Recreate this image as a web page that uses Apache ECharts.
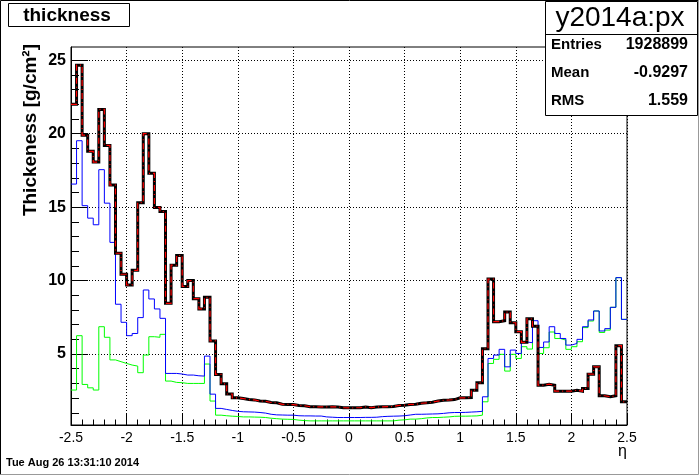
<!DOCTYPE html>
<html>
<head>
<meta charset="utf-8">
<script src="https://cdn.jsdelivr.net/npm/echarts@6/dist/echarts.min.js"></script>
<style>
html,body{margin:0;padding:0;background:#fff;}
#c{width:699px;height:475px;}
</style>
</head>
<body>
<div id="c"></div>
<script>
// Histogram binning (eta)
var nBins = 100, etaMin = -2.5, etaMax = 2.5;
var xTicks = [-2.5, -2, -1.5, -1, -0.5, 0, 0.5, 1, 1.5, 2, 2.5];
var yTicks = [5, 10, 15, 20, 25];
var yMinorTicks = [1,2,3,4,5,6,7,8,9,10,11,12,13,14,15,16,17,18,19,20,21,22,23,24,25];

// total thickness (black thick / red dashed)
var totalThick = [
 22.0, 24.66, 19.9, 18.8, 18.07, 21.65, 19.2, 16.5, 11.86, 10.43,
 9.7, 10.7, 15.3, 20.0, 17.3, 14.98, 14.7, 8.45, 11.05, 11.7,
 9.6, 10.0, 8.77, 8.07, 8.86, 5.89, 3.61, 2.97, 2.28, 2.02,
 1.97, 1.9, 1.88, 1.8, 1.78, 1.7, 1.68, 1.58, 1.57, 1.56,
 1.5, 1.48, 1.42, 1.41, 1.4, 1.4, 1.41, 1.4, 1.35, 1.34,
 1.34, 1.35, 1.4, 1.35, 1.4, 1.41, 1.42, 1.43, 1.5, 1.52,
 1.57, 1.58, 1.65, 1.68, 1.72, 1.8, 1.85, 1.87, 1.9, 2.02,
 2.02, 2.04, 2.54, 3.04, 5.36, 10.1, 7.2, 7.27, 7.86, 7.13,
 6.52, 5.8, 7.4, 6.9, 2.88, 2.95, 2.88, 2.47, 2.47, 2.47,
 2.54, 2.47, 2.66, 3.63, 4.13, 2.16, 2.09, 2.16, 5.57, 1.75
];
// blue component
var blueThick = [
 16.57, 19.52, 15.1, 14.25, 13.8, 17.55, 15.27, 12.6, 8.39, 7.16,
 6.25, 6.4, 7.48, 9.36, 8.75, 8.07, 7.43, 3.68, 3.68, 3.64,
 3.57, 3.57, 3.52, 3.5, 4.86, 2.27, 1.3, 1.23, 1.16, 1.1,
 1.07, 1.06, 1.05, 1.02, 0.98, 0.9, 0.86, 0.85, 0.84, 0.84,
 0.8, 0.79, 0.79, 0.78, 0.78, 0.72, 0.7, 0.68, 0.68, 0.68,
 0.68, 0.68, 0.69, 0.69, 0.7, 0.74, 0.76, 0.77, 0.78, 0.8,
 0.85, 0.9, 0.9, 0.91, 0.92, 0.93, 0.96, 1.0, 1.02, 1.02,
 1.03, 1.05, 1.07, 1.1, 2.09, 4.7, 4.93, 5.32, 4.13, 5.27,
 5.04, 5.82, 5.77, 7.27, 5.45, 5.82, 6.86, 6.4, 6.06, 5.61,
 5.72, 6.0, 6.86, 7.32, 7.93, 6.57, 6.73, 8.18, 10.2, 7.36
];
// green component
var greenThick = [
 2.55, 6.25, 2.93, 2.7, 2.55, 6.86, 6.14, 4.6, 4.48, 4.36,
 4.25, 4.18, 3.73, 4.93, 6.18, 6.14, 6.34, 3.16, 3.07, 3.05,
 3.0, 3.0, 3.0, 3.0, 4.32, 1.8, 0.84, 0.8, 0.77, 0.75,
 0.72, 0.72, 0.71, 0.7, 0.68, 0.63, 0.6, 0.57, 0.56, 0.55,
 0.5, 0.47, 0.45, 0.45, 0.45, 0.45, 0.45, 0.45, 0.45, 0.45,
 0.45, 0.45, 0.45, 0.45, 0.45, 0.45, 0.45, 0.45, 0.5, 0.52,
 0.57, 0.57, 0.6, 0.65, 0.68, 0.68, 0.7, 0.72, 0.76, 0.77,
 0.77, 0.78, 0.79, 0.84, 1.75, 4.36, 4.64, 4.98, 3.84, 4.98,
 4.7, 5.5, 5.34, 6.9, 5.04, 5.43, 6.5, 6.06, 5.95, 5.32,
 5.5, 5.84, 6.8, 7.25, 7.93, 6.47, 6.63, 8.18, 10.2, 7.36
];

var statsTitle = 'y2014a:px';
var statsRows = [['Entries', '1928899'], ['Mean', '-0.9297'], ['RMS', '1.559']];
var histTitle = 'thickness';
var yTitle = 'Thickeness [g/cm\u00B2]';
var xTitle = '\u03B7';
var dateText = 'Tue Aug 26 13:31:10 2014';

function histData(vals) {
  var w = (etaMax - etaMin) / nBins, out = [];
  for (var i = 0; i < vals.length; i++) out.push([etaMin + i * w, vals[i]]);
  out.push([etaMax, vals[vals.length - 1]]);
  return out;
}

var FONT = '"Liberation Sans", Arial, Helvetica, sans-serif';
var chart = echarts.init(document.getElementById('c'), null, {renderer: 'canvas'});

function lineSeries(vals, color, width, type, z) {
  return {
    type: 'line', step: 'end', data: histData(vals), symbol: 'none',
    showSymbol: false, animation: false, z: z, silent: true,
    lineStyle: {color: color, width: width, type: type, cap: 'butt', join: 'miter'}
  };
}

var graphics = [
  // canvas border
  {type: 'polyline', z: 100, shape: {points: [[0.5, 474.5], [0.5, 0.5], [698.5, 0.5]]}, style: {stroke: '#000', lineWidth: 1, fill: null}},
  {type: 'polyline', z: 100, shape: {points: [[0.5, 474.5], [698.5, 474.5], [698.5, 0.5]]}, style: {stroke: '#999', lineWidth: 1, fill: null}},
  // title box
  {type: 'rect', z: 100, shape: {x: 8.5, y: 3.5, width: 121, height: 23}, style: {fill: '#fff', stroke: '#000', lineWidth: 1}},
  {type: 'text', z: 101, x: 67, y: 15.5, style: {text: histTitle, font: 'bold 19px ' + FONT, fill: '#000', textAlign: 'center', textVerticalAlign: 'middle'}},
  // stats box
  {type: 'rect', z: 100, shape: {x: 545.5, y: 1.5, width: 152, height: 114}, style: {fill: '#fff', stroke: '#000', lineWidth: 1}},
  {type: 'line', z: 101, shape: {x1: 545.5, y1: 34.5, x2: 697.5, y2: 34.5}, style: {stroke: '#000', lineWidth: 1}},
  {type: 'text', z: 101, x: 620, y: 18, style: {text: statsTitle, font: '28px ' + FONT, fill: '#000', textAlign: 'center', textVerticalAlign: 'middle'}},
  // y title
  {type: 'text', z: 101, x: 31, y: 44, rotation: Math.PI / 2, style: {text: yTitle, font: 'bold 19px ' + FONT, fill: '#000', textAlign: 'right', textVerticalAlign: 'middle'}},
  // x title
  {type: 'text', z: 101, x: 627, y: 452, style: {text: xTitle, font: '16px ' + FONT, fill: '#000', textAlign: 'right', textVerticalAlign: 'middle'}},
  // date
  {type: 'text', z: 101, x: 6, y: 463, style: {text: dateText, font: 'bold 11px ' + FONT, fill: '#000', textAlign: 'left', textVerticalAlign: 'middle'}}
];
var rowY = [45, 73, 101];
statsRows.forEach(function (r, i) {
  graphics.push({type: 'text', z: 101, x: 551, y: rowY[i], style: {text: r[0], font: 'bold 15px ' + FONT, fill: '#000', textAlign: 'left', textVerticalAlign: 'middle'}});
  graphics.push({type: 'text', z: 101, x: 688, y: rowY[i], style: {text: r[1], font: 'bold 16px ' + FONT, fill: '#000', textAlign: 'right', textVerticalAlign: 'middle'}});
});

var option = {
  animation: false,
  backgroundColor: '#fff',
  grid: {left: 71, right: 72, top: 47, bottom: 50, show: true, borderColor: '#000', borderWidth: 1, backgroundColor: 'transparent'},
  xAxis: {
    type: 'value', min: etaMin, max: etaMax, interval: 0.5,
    axisLine: {show: true, onZero: false, lineStyle: {color: '#000', width: 1}},
    axisTick: {show: true, inside: true, length: 11, lineStyle: {color: '#000', width: 1}},
    minorTick: {show: true, splitNumber: 5, length: 5.5, lineStyle: {color: '#000', width: 1}},
    axisLabel: {show: true, color: '#000', fontFamily: FONT, fontSize: 14, margin: 6,
      customValues: xTicks,
      formatter: function (v) { return String(Math.round(v * 10) / 10); }},
    splitLine: {show: true, lineStyle: {color: '#000', width: 1, type: [1, 2]}},
    minorSplitLine: {show: false}
  },
  yAxis: [{
    type: 'value', min: 0.17, max: 25.9,
    axisLine: {show: true, onZero: false, lineStyle: {color: '#000', width: 1}},
    axisTick: {show: true, inside: true, length: 17, customValues: yTicks, lineStyle: {color: '#000', width: 1}},
    axisLabel: {show: true, color: '#000', fontFamily: FONT, fontSize: 16, fontWeight: 'bold', margin: 5, customValues: yTicks},
    splitLine: {show: true, lineStyle: {color: '#000', width: 1, type: [1, 2]}}
  }, {
    type: 'value', min: 0.17, max: 25.9, position: 'left', offset: 0,
    axisLine: {show: false, onZero: false},
    axisTick: {show: true, inside: true, length: 8, customValues: yMinorTicks, lineStyle: {color: '#000', width: 1}},
    axisLabel: {show: false},
    splitLine: {show: false}
  }],
  series: [
    lineSeries(greenThick, '#00ff00', 1, 'solid', 2),
    lineSeries(blueThick, '#0000ff', 1, 'solid', 3),
    lineSeries(totalThick, '#000000', 3, 'solid', 4),
    lineSeries(totalThick, '#ff0000', 1.2, [6, 3, 1, 3], 5)
  ],
  graphic: graphics
};
chart.setOption(option);
</script>
</body>
</html>
